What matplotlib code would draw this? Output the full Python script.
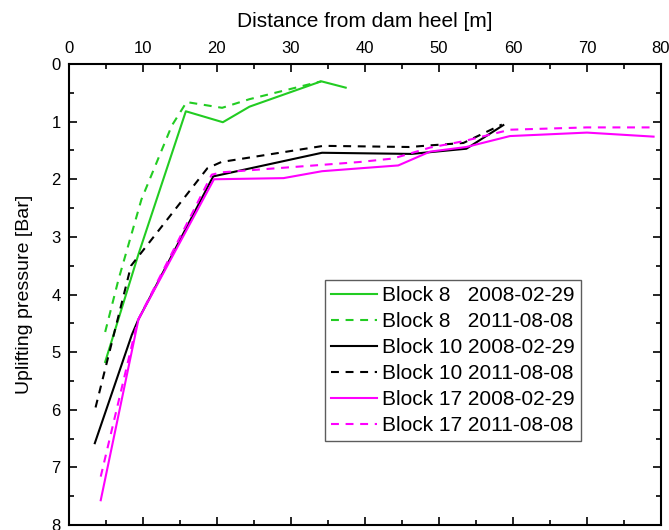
import matplotlib.pyplot as plt
import numpy as np

plt.rcParams['font.family'] = ['Liberation Sans', 'DejaVu Sans']

# Block 8
b8_x_2008 = [4.9, 9.4, 15.8, 20.8, 24.4, 34.1, 37.4]
b8_y_2008 = [5.17, 3.3, 0.82, 1.01, 0.74, 0.30, 0.41]
b8_x_2011 = [4.9, 6.7, 9.8, 13.9, 15.9, 20.7, 24.4, 34.1]
b8_y_2011 = [4.65, 3.74, 2.35, 1.07, 0.66, 0.76, 0.61, 0.30]

# Block 10
b10_x_2008 = [3.5, 8.5, 9.4, 19.5, 34.2, 46.3, 53.7, 58.7]
b10_y_2008 = [6.58, 4.70, 4.43, 1.95, 1.54, 1.56, 1.47, 1.06]
b10_x_2011 = [3.6, 8.4, 18.7, 20.6, 34.4, 46.0, 49.0, 53.3, 58.5]
b10_y_2011 = [5.96, 3.50, 1.81, 1.70, 1.42, 1.44, 1.41, 1.37, 1.05]

# Block 17
b17_x_2008 = [4.3, 9.4, 19.6, 29.0, 34.2, 39.3, 44.5, 48.8, 53.7, 59.6, 70.0, 79.0]
b17_y_2008 = [7.57, 4.43, 2.00, 1.98, 1.86, 1.81, 1.76, 1.52, 1.44, 1.25, 1.19, 1.26]
b17_x_2011 = [4.3, 9.3, 19.3, 20.6, 34.2, 39.3, 43.8, 48.8, 53.3, 59.6, 70.0, 79.0]
b17_y_2011 = [7.16, 4.45, 1.92, 1.88, 1.75, 1.70, 1.64, 1.45, 1.34, 1.14, 1.10, 1.10]

green = '#22cc22'
magenta = '#ff00ff'
dash = (0, (3.8, 3.2))

fig = plt.figure(figsize=(6.69, 5.30), dpi=100)
ax = fig.add_axes([0.103, 0.0094, 0.885, 0.8698])

ax.plot(b8_x_2008, b8_y_2008, color=green, lw=1.5, label='Block 8   2008-02-29')
ax.plot(b8_x_2011, b8_y_2011, color=green, lw=1.5, ls=dash, label='Block 8   2011-08-08')
ax.plot(b10_x_2008, b10_y_2008, color='black', lw=1.5, label='Block 10 2008-02-29')
ax.plot(b10_x_2011, b10_y_2011, color='black', lw=1.5, ls=dash, label='Block 10 2011-08-08')
ax.plot(b17_x_2008, b17_y_2008, color=magenta, lw=1.5, label='Block 17 2008-02-29')
ax.plot(b17_x_2011, b17_y_2011, color=magenta, lw=1.5, ls=dash, label='Block 17 2011-08-08')

ax.set_xlim(0, 80)
ax.set_ylim(8, 0)
ax.set_xticks(np.arange(0, 81, 10))
ax.set_xticks(np.arange(5, 80, 10), minor=True)
ax.set_yticks(np.arange(0, 9, 1))
ax.set_yticks(np.arange(0.5, 8, 1), minor=True)

ax.xaxis.tick_top()
ax.xaxis.set_label_position('top')
ax.tick_params(which='both', direction='in', top=True, bottom=True, left=True, right=True,
               labeltop=True, labelbottom=False, labelsize=12, width=1.2, pad=6)
ax.tick_params(which='major', length=6)
ax.tick_params(which='minor', length=3.5)
for s in ax.spines.values():
    s.set_linewidth(1.5)

ax.set_xlabel('Distance from dam heel [m]', fontsize=15, labelpad=10)
ax.set_ylabel('Uplifting pressure [Bar]', fontsize=14, labelpad=13)

leg = ax.legend(loc='upper left', bbox_to_anchor=(0.432, 0.531), fontsize=15,
                frameon=True, fancybox=False, edgecolor='#333333', handlelength=2.2,
                handletextpad=0.25, borderpad=0.3, labelspacing=0.33, borderaxespad=0)
leg.get_frame().set_linewidth(1.0)

fig.savefig('out.png', dpi=100)
